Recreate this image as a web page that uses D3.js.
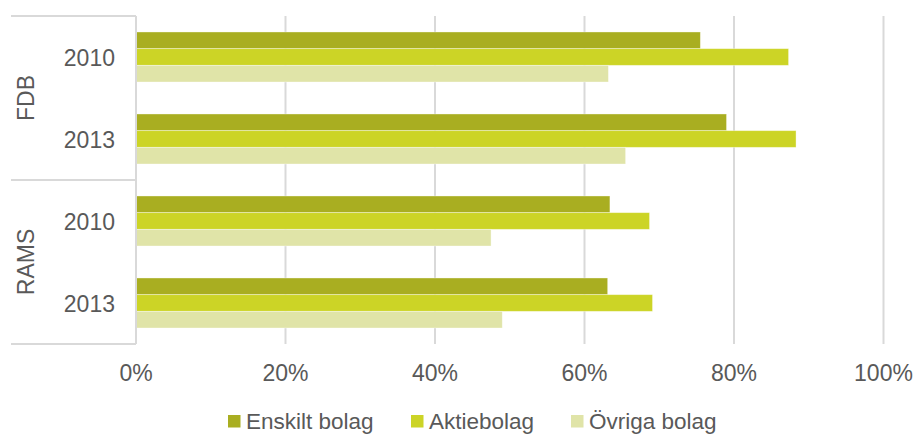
<!DOCTYPE html>
<html>
<head>
<meta charset="utf-8">
<script src="https://cdn.jsdelivr.net/npm/d3@7"></script>
<style>
  body { margin: 0; background: #fff; }
  text { font-family: "Liberation Sans", Arial, sans-serif; fill: #595959; }
</style>
</head>
<body>
<div id="chart"></div>
<script>
//chart data
let groups = ["FDB", "RAMS"];
let years = ["2010", "2013"];
let seriesNames = ["Enskilt bolag", "Aktiebolag", "Övriga bolag"];
let seriesColors = ["#a9ae21", "#ccd426", "#e0e4a8"];
// values in %, per row: FDB 2010, FDB 2013, RAMS 2010, RAMS 2013
let enskiltValues = [75.5, 79.0, 63.4, 63.1];
let aktieValues = [87.3, 88.3, 68.7, 69.1];
let ovrigaValues = [63.2, 65.5, 47.5, 49.0];
let xTicks = [0, 20, 40, 60, 80, 100];

let svgWidth = 916;
let svgHeight = 434;
let margin = { top: 16, left: 136, right: 33, bottom: 90 };
let plotRight = svgWidth - margin.right;
let plotBottom = svgHeight - margin.bottom;

let svg = d3.select("#chart")
  .append("svg")
  .attr("width", svgWidth)
  .attr("height", svgHeight);

//build rows from the arrays
let rows = [];
groups.forEach((g, gi) => {
  years.forEach((y, yi) => {
    let i = gi * years.length + yi;
    rows.push({
      key: g + "-" + y,
      group: g,
      year: y,
      values: [enskiltValues[i], aktieValues[i], ovrigaValues[i]]
    });
  });
});

let xScale = d3.scaleLinear().domain([0, 100]).range([margin.left, plotRight + 0.5]);

let yScale = d3.scaleBand()
  .domain(rows.map(d => d.key))
  .range([margin.top, plotBottom])
  .paddingInner(0.39)
  .paddingOuter(0.195);

let subScale = d3.scaleBand()
  .domain(seriesNames)
  .range([0, yScale.bandwidth()]);

//gridlines
svg.append("g")
  .selectAll("line")
  .data(xTicks.slice(1))
  .enter()
  .append("line")
  .attr("x1", d => xScale(d))
  .attr("x2", d => xScale(d))
  .attr("y1", margin.top)
  .attr("y2", plotBottom)
  .attr("stroke", "#d9d9d9")
  .attr("stroke-width", 2);

//bars
let rowGroups = svg.append("g")
  .selectAll("g")
  .data(rows)
  .enter()
  .append("g")
  .attr("transform", d => `translate(0, ${yScale(d.key)})`);

rowGroups.selectAll("rect")
  .data(d => d.values.map((v, i) => ({ name: seriesNames[i], value: v, color: seriesColors[i] })))
  .enter()
  .append("rect")
  .attr("x", xScale(0))
  .attr("y", d => subScale(d.name))
  .attr("width", d => xScale(d.value) - xScale(0))
  .attr("height", subScale.bandwidth())
  .attr("fill", d => d.color)
  .attr("stroke", "#fff")
  .attr("stroke-opacity", 0.45)
  .attr("stroke-width", 0.8);

//category axis lines (left)
let axisColor = "#d9d9d9";
svg.append("line")
  .attr("x1", margin.left).attr("x2", margin.left)
  .attr("y1", margin.top).attr("y2", plotBottom)
  .attr("stroke", axisColor).attr("stroke-width", 2);

let groupEdges = [margin.top, (margin.top + plotBottom) / 2, plotBottom];
svg.append("g")
  .selectAll("line")
  .data(groupEdges)
  .enter()
  .append("line")
  .attr("x1", 11)
  .attr("x2", margin.left)
  .attr("y1", d => d)
  .attr("y2", d => d)
  .attr("stroke", axisColor)
  .attr("stroke-width", 2);

//year labels
svg.append("g")
  .selectAll("text")
  .data(rows)
  .enter()
  .append("text")
  .attr("x", 115)
  .attr("y", d => yScale(d.key) + yScale.bandwidth() / 2 + 8.5)
  .attr("text-anchor", "end")
  .attr("font-size", "23px")
  .text(d => d.year);

//group labels (rotated)
groups.forEach((g, gi) => {
  let cy = (groupEdges[gi] + groupEdges[gi + 1]) / 2;
  svg.append("text")
    .attr("transform", `translate(34, ${cy}) rotate(-90)`)
    .attr("text-anchor", "middle")
    .attr("font-size", "23px")
    .text(g);
});

//x tick labels
svg.append("g")
  .selectAll("text")
  .data(xTicks)
  .enter()
  .append("text")
  .attr("x", d => xScale(d))
  .attr("y", 381)
  .attr("text-anchor", "middle")
  .attr("font-size", "23px")
  .text(d => d + "%");

//legend
let legendX = [228, 411, 571];
let legend = svg.append("g")
  .selectAll("g")
  .data(seriesNames)
  .enter()
  .append("g")
  .attr("transform", (d, i) => `translate(${legendX[i]}, 415)`);

legend.append("rect")
  .attr("width", 12.5)
  .attr("height", 12.5)
  .attr("fill", (d, i) => seriesColors[i]);

legend.append("text")
  .attr("x", 18)
  .attr("y", 14)
  .attr("font-size", "22.5px")
  .text(d => d);
</script>
</body>
</html>
